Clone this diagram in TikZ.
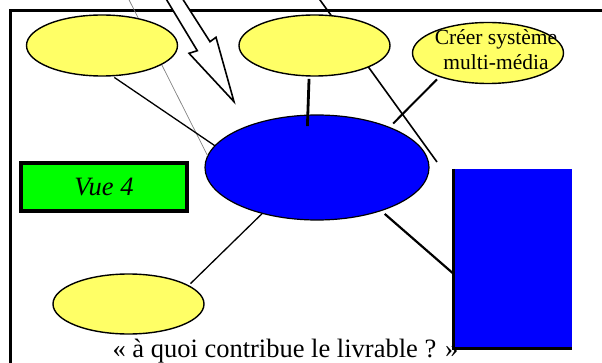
\documentclass[tikz,border=0pt]{standalone}
\usepackage{fontspec}
\setmainfont{Liberation Serif}
\usetikzlibrary{shapes}
\definecolor{jaune}{RGB}{255,255,102}
\definecolor{bleu}{RGB}{0,0,255}
\definecolor{vert}{RGB}{0,255,0}

\begin{document}
\begin{tikzpicture}[
    x=1pt, y=-1pt,
    every node/.style={font=\fontsize{26.5}{30}\selectfont, inner sep=0pt, outer sep=0pt},
    bulle/.style={ellipse, draw, line width=1.4pt, fill=#1, minimum width=151pt, minimum height=61pt},
    bulle/.default=jaune,
    bloc/.style={rectangle, fill=#1, minimum width=119pt, minimum height=179pt},
    bloc/.default=bleu,
    vue/.style={rectangle, draw, line width=3.5pt, fill=vert, minimum width=166pt, minimum height=48pt},
    ligne/.style={line width=1.3pt},
    grosse/.style={line width=2pt},
    fleche/.style={draw, fill=white, line width=1.6pt, line join=miter}
]
    \useasboundingbox (0,0) rectangle (602,363);
    \clip (0,0) rectangle (602,363);

    % Cadre
    \draw[line width=3pt] (10,10.5) rectangle (640,400);

    % Ellipse centrale
    \node[bulle=bleu, line width=1.2pt, minimum width=224pt, minimum height=105pt] (centre) at (317,167.5) {};

    % Traits qui passent derriere les bulles
    \coordinate (hautA) at (126.6,-5);
    \coordinate (hautB) at (316.4,-5);
    \coordinate (finB) at (437,162);
    \draw[gray, line width=0.7pt] (hautA) -- (centre.174);
    \draw[line width=1.6pt] (hautB) -- (finB);

    % Bulles jaunes
    \node[bulle] (bulleA) at (102,45.5) {};
    \node[bulle] (bulleB) at (314.5,45.5) {};
    \node[bulle] (systeme) at (488,53) {};
    \node[font=\fontsize{21.5}{25}\selectfont, align=center] (systemeTexte) at ([xshift=8pt, yshift=3pt]systeme.center) {Créer système\\multi-média};
    \node[bulle, minimum height=60pt] (bulleBas) at (128.5,304) {};

    % Vue 4
    \node[vue] (vue) at (104,187) {\itshape Vue 4};

    % Bloc bleu
    \node[bloc] (livrable) at (512.5,258.5) {};
    \draw[line width=3pt] (livrable.north west) -- (livrable.south west) -- (livrable.south east);

    % Liens
    \draw[ligne, shorten <=3pt] (bulleA.-72) -- (centre.168);
    \draw[line width=2.8pt, shorten <=3pt, shorten >=-11pt] (bulleB.-100) -- (centre.100);
    \draw[grosse, shorten <=4pt, shorten >=5.5pt] (systeme.-154) -- (centre.29.4);
    \draw[ligne, shorten >=3pt] (centre.-140) -- (bulleBas.17.6);
    \draw[grosse, line width=2.2pt, shorten <=5pt] (centre.-34) -- (livrable.-166.4);

    % Grosse fleche
    \path[fleche] (160.7,-10) -- (197.3,50.7) -- (189,53.3) -- (234,101.7) -- (216,37.3) -- (210,41.7) -- (176.9,-10) -- cycle;

    % Question
    \node[anchor=base west] (question) at (112.5,357) {« à quoi contribue le livrable ? »};
\end{tikzpicture}
\end{document}
